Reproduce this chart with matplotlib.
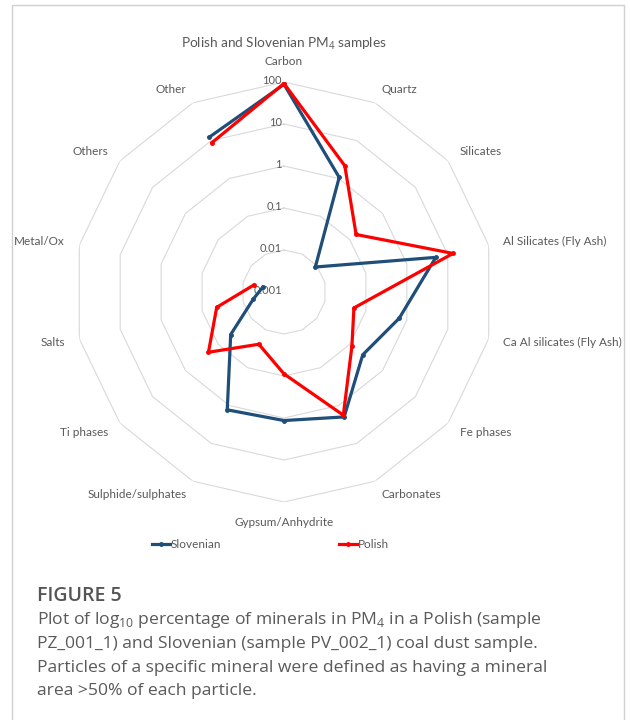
import numpy as np
import matplotlib
matplotlib.use("Agg")
import matplotlib.pyplot as plt
from matplotlib.patches import Rectangle
from matplotlib.lines import Line2D
from matplotlib.transforms import offset_copy

plt.rcParams['font.family'] = ['Lato', 'DejaVu Sans']
plt.rcParams['mathtext.fontset'] = 'custom'
plt.rcParams['mathtext.rm'] = 'Open Sans'

categories = ["Carbon", "Quartz", "Silicates", "Al Silicates (Fly Ash)",
              "Ca Al silicates (Fly Ash)", "Fe phases", "Carbonates",
              "Gypsum/Anhydrite", "Sulphide/sulphates", "Ti phases", "Salts",
              "Metal/Ox", "Others", "Other"]
# percentages (log axis); NaN = no value plotted
slovenian = [88, 1.07, 0.009, 5.1, 0.65, 0.25, 2.0, 1.15, 1.3, 0.042,
             0.0056, 0.0033, np.nan, 12.4]
polish = [92, 2.17, 0.157, 13.4, 0.051, 0.117, 1.8, 0.089, 0.024, 0.2,
          0.044, 0.0055, np.nan, 8.9]
ring_levels = [0.01, 0.1, 1, 10, 100]
tick_levels = [100, 10, 1, 0.1, 0.01, 0.001]
tick_labels = ["100", "10", "1", "0.1", "0.01", "0.001"]

caption = ["Plot of log$_{10}$ percentage of minerals in PM$_4$ in a Polish (sample",
           "PZ_001_1) and Slovenian (sample PV_002_1) coal dust sample.",
           "Particles of a specific mineral were defined as having a mineral",
           "area >50% of each particle."]

txt = '#595959'
blue = '#1F4E79'
red = '#FF0000'

fig = plt.figure(figsize=(6.3, 7.2), dpi=100)
fig.patches.append(Rectangle((12/630, -0.01), 612/630, 1 - 5/720 + 0.01,
                             transform=fig.transFigure, fill=False,
                             edgecolor='#d0d0d0', lw=1))

ax = fig.add_axes([74/630, 1 - 502/720, 420/630, 420/720], projection='polar')
ax.set_theta_zero_location('N')
ax.set_theta_direction(-1)
ax.set_rscale('log')
ax.set_rlim(0.001, 100)
ax.grid(False)
ax.set_xticks([])
ax.set_yticks([])
ax.spines['polar'].set_visible(False)
ax.patch.set_alpha(0)

n = len(categories)
theta = np.arange(n) * 2 * np.pi / n
theta_c = np.append(theta, theta[0])

for lvl in ring_levels:
    ax.plot(theta_c, [lvl] * (n + 1), color='#d9d9d9', lw=0.8, zorder=1)

ax.plot(theta_c, slovenian + [slovenian[0]], color=blue, lw=2.3,
        marker='o', ms=2.5, zorder=3)
ax.plot(theta_c, polish + [polish[0]], color=red, lw=2.3,
        marker='o', ms=2.5, zorder=4)

# radial tick labels
tt = offset_copy(ax.transData, fig=fig, x=-2, y=1, units='dots')
for v, lab in zip(tick_levels, tick_labels):
    ax.text(0, v, lab, transform=tt, ha='right', va='center',
            fontsize=8, color=txt, zorder=2)

# category labels
r_lab = 100 * 10 ** (15 / 42)
for th, lab in zip(theta, categories):
    s, c = np.sin(th), np.cos(th)
    ha = 'center' if abs(s) < 0.1 else ('left' if s > 0 else 'right')
    va = 'center'
    if abs(s) < 0.1:
        va = 'bottom' if c > 0 else 'top'
    ax.text(th, r_lab, lab, ha=ha, va=va, fontsize=8.5, color=txt)

fig.text(284/630, 1 - 44/720, "Polish and Slovenian PM$_4$ samples",
         ha='center', va='center', fontsize=9.8, color=txt)

handles = [Line2D([], [], color=blue, lw=2.3, marker='o', ms=2.5),
           Line2D([], [], color=red, lw=2.3, marker='o', ms=2.5)]
fig.legend(handles, ["Slovenian", "Polish"], loc='center left',
           bbox_to_anchor=(152/630, 1 - 545/720), ncol=2, frameon=False,
           fontsize=8.5, handlelength=1.5, handletextpad=0.1,
           columnspacing=10.0, borderpad=0, borderaxespad=0, labelcolor=txt)

fig.text(37/630, 1 - 596/720, "FIGURE 5", ha='left', va='center',
         fontsize=14, fontweight='semibold', color='#555555', family='Open Sans')
for i, line in enumerate(caption):
    fig.text(37/630, 1 - (620 + 23.8 * i)/720, line, ha='left', va='center',
             fontsize=12.6, color='#5a5a5a', family='Open Sans')

fig.savefig("out.png", dpi=100, facecolor='white')
